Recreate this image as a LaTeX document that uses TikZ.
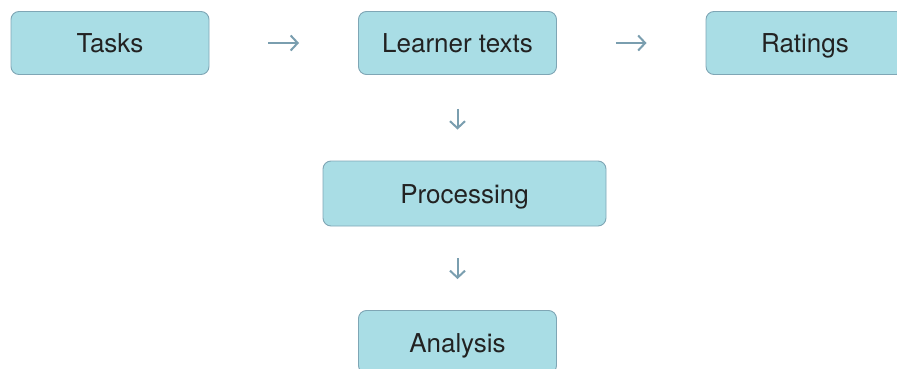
\documentclass[tikz,border=0pt]{standalone}
\usepackage{fontspec}
\setmainfont{TeX Gyre Heros}
\usetikzlibrary{arrows.meta}
\definecolor{boxfill}{HTML}{A9DDE5}
\definecolor{boxline}{HTML}{7FA6B5}
\definecolor{arrowcol}{HTML}{7A9EAF}
\definecolor{labelcol}{HTML}{222222}
\tikzset{
  stage/.style={draw=boxline, line width=0.9pt, fill=boxfill, rounded corners=8pt,
    minimum width=198pt, minimum height=63pt, inner sep=0pt,
    text height=20pt, text depth=0pt,
    text=labelcol, font=\fontsize{26}{31}\selectfont},
  flow/.style={draw=arrowcol, line width=2pt,
    -{Straight Barb[length=7pt,width=15pt,line width=2pt]}}
}
\begin{document}
\begin{tikzpicture}[x=1pt,y=-1pt]
  \useasboundingbox (0,0) rectangle (897,369);
  \node[stage] (tasks)    at (110,43)   {Tasks};
  \node[stage] (learner)  at (457.5,43) {Learner texts};
  \node[stage] (ratings)  at (805,43)   {Ratings};
  \node[stage, minimum width=283pt, minimum height=65pt] (proc) at (464.5,193.5) {Processing};
  \node[stage] (analysis) at (457.5,342) {Analysis};
  \draw[flow, shorten <=59pt, shorten >=59pt] (tasks.east) -- (learner.west);
  \draw[flow, shorten <=59pt, shorten >=59pt] (learner.east) -- (ratings.west);
  \draw[flow, shorten <=34pt, shorten >=31pt] (learner.south) -- (learner.south |- proc.north);
  \draw[flow, shorten <=32pt, shorten >=31pt] (proc.south -| analysis.north) -- (analysis.north);
\end{tikzpicture}
\end{document}
